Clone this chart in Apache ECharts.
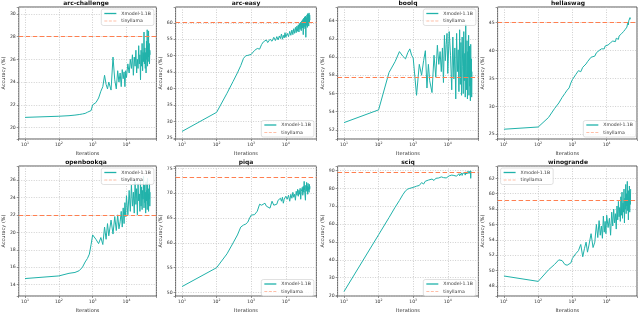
<!DOCTYPE html>
<html><head><meta charset="utf-8">
<script src="https://cdn.jsdelivr.net/npm/echarts@6/dist/echarts.min.js"></script>
<style>html,body{margin:0;padding:0;background:#fff}#c{width:640px;height:314px}</style>
</head><body><div id="c"></div>
<script>
// ---- data ----
const iterations = [10,100,200,300,400,500,600,700,800,900,1000,1250,1500,1750,2000,2250,2500,2750,3000,3500,
 4000,4500,5000,5500,6000,6500,7000,7500,8000,8500,9000,9500,
 10000,11000,12000,13000,14000,15000,16000,17000,18000,19000,20000,21000,22000,23000,24000,25000,26000,27000,28000,29000,
 30000,31000,32000,33000,34000,35000,36000,37000,38000,39000,40000,41000,42000,43000,44000,45000,46000,47000,48000,49000,50000];
const titles = ['arc-challenge','arc-easy','boolq','hellaswag','openbookqa','piqa','sciq','winogrande'];
const tinyllama = [28.0, 60.3, 57.8, 45.0, 22.0, 73.2, 88.9, 59.1];
const arcChallenge = [20.9,21.0,21.05,21.1,21.15,21.2,21.25,21.35,21.4,21.5,22.0,22.2,22.6,23.2,23.6,24.6,23.8,23.4,24.0,23.3,
 26.2,24.2,23.4,25.0,24.0,24.8,23.6,25.1,24.3,24.9,23.6,25.0,
 24.4,25.6,24.8,26.0,25.2,26.4,24.6,26.2,25.4,26.8,24.8,26.0,25.2,27.2,25.6,26.4,24.2,26.8,
 25.4,27.4,25.0,26.6,25.8,28.4,25.6,27.0,25.2,26.6,24.8,27.6,26.0,28.6,25.4,27.2,26.2,28.5,25.8,27.4,25.6,26.8,26.4];
const arcEasy = [27.0,32.8,38.6,42.2,44.8,47.0,49.2,50.0,50.1,50.2,50.4,51.6,52.2,52.0,53.4,54.2,53.6,54.8,54.0,55.0,
 54.4,55.6,54.6,55.8,54.8,56.0,55.2,56.6,55.0,56.2,55.4,57.0,
 55.6,56.8,55.8,57.4,56.2,57.8,56.4,58.2,56.8,58.6,57.0,59.0,57.4,59.4,57.2,59.8,58.0,60.2,
 57.6,60.6,58.4,61.0,56.4,61.4,58.8,61.8,58.2,62.0,55.6,61.6,59.2,62.4,58.6,62.8,59.6,62.6,59.0,63.0,60.2,62.4,60.8];
const boolq = [52.8,54.2,58.3,59.5,60.6,60.1,59.8,60.5,60.9,60.2,59.9,55.8,59.2,58.0,59.6,60.7,56.6,59.2,57.4,56.1,
 60.2,57.8,61.3,59.2,60.6,58.4,61.0,57.2,62.4,59.6,61.4,62.6,
 58.2,62.8,60.2,56.4,62.2,57.6,61.0,55.4,62.6,58.4,60.8,56.2,63.0,57.0,61.6,55.8,62.2,59.0,
 56.0,62.8,57.4,60.4,55.6,63.6,58.6,56.4,61.8,55.4,60.6,57.8,62.4,55.8,61.2,56.8,60.0,55.2,61.4,57.0,59.8,55.6,58.4];
const hellaswag = [25.9,26.3,28.0,29.6,30.6,31.6,32.3,32.9,33.3,34.2,34.8,35.7,36.4,36.2,37.0,36.9,37.6,38.0,38.2,38.8,
 39.1,39.0,39.6,39.5,40.0,39.7,40.3,40.1,40.6,40.3,40.8,40.5,
 40.9,41.0,40.7,41.4,41.1,41.7,41.4,42.0,41.6,42.2,41.9,42.4,42.0,42.6,42.3,42.8,42.5,43.0,
 42.7,43.2,42.9,43.4,43.1,43.6,43.3,43.8,43.5,44.0,43.7,44.2,44.6,44.3,45.0,44.6,45.3,45.0,45.6,45.3,45.9,45.6,46.0];
const openbookqa = [14.7,15.0,15.3,15.4,15.6,16.0,16.6,17.0,17.5,18.6,19.7,19.2,18.7,19.4,18.6,20.6,19.2,21.0,19.6,21.4,
 19.8,21.8,20.2,22.0,20.4,21.2,22.4,20.6,22.8,21.0,23.4,21.8,
 24.2,22.0,24.8,22.4,25.4,23.0,24.6,22.2,25.8,23.2,25.0,22.0,25.6,23.6,24.4,22.4,26.0,23.0,
 25.2,22.6,24.8,23.8,26.4,22.8,25.4,23.4,24.6,22.2,25.8,23.6,24.8,22.6,26.2,23.2,25.0,22.4,24.4,23.8,25.6,23.0,24.6];
const piqa = [51.2,55.0,57.8,60.0,61.6,63.2,63.6,63.8,64.2,65.0,65.6,65.7,66.4,67.8,67.6,67.2,68.0,67.4,67.6,67.0,
 68.4,67.6,68.0,67.8,68.6,68.2,69.0,68.4,69.2,68.0,68.8,68.6,
 69.4,68.8,69.6,68.4,69.8,69.0,70.2,69.2,69.8,68.6,70.4,69.6,70.8,69.4,70.6,69.8,71.0,68.8,
 70.4,70.0,71.2,69.6,71.4,70.2,72.4,70.6,71.0,68.6,71.6,70.4,72.2,70.8,71.4,69.8,72.0,70.6,71.2,70.2,71.8,70.8,71.4];
const sciq = [22.2,54.0,63.6,69.4,73.2,76.4,78.6,79.6,80.0,80.2,80.5,81.2,81.6,83.2,82.4,84.0,83.4,84.6,83.8,85.2,
 84.4,85.6,84.8,85.8,85.2,86.4,85.4,86.0,85.6,86.6,85.8,86.8,
 86.0,87.0,86.2,87.4,86.4,87.2,86.6,87.8,86.8,87.6,87.0,88.2,87.0,88.0,87.4,88.6,87.2,88.4,
 87.6,89.0,87.8,88.6,87.4,89.2,88.0,88.8,87.6,89.4,88.2,89.0,87.8,89.6,88.4,89.2,88.0,89.8,85.6,89.4,88.6,90.0,89.2];
const winogrande = [49.3,48.6,50.1,50.8,51.4,51.3,50.8,50.7,50.8,51.0,51.6,52.2,52.6,53.4,51.8,52.9,53.7,52.4,53.2,54.8,
 53.0,53.7,56.0,54.3,56.5,54.6,55.8,54.2,57.1,55.0,56.4,54.8,
 57.2,55.6,56.8,54.6,57.6,55.8,58.0,56.2,57.4,55.4,58.4,56.6,59.0,57.0,58.2,56.4,59.6,57.2,
 60.2,56.8,58.8,57.6,60.6,56.2,59.4,58.0,61.2,57.4,60.0,58.4,61.6,57.8,59.6,56.6,60.4,58.2,61.0,57.6,59.8,58.6,60.6];
const xmodel = [arcChallenge, arcEasy, boolq, hellaswag, openbookqa, piqa, sciq, winogrande];

// ---- layout / style ----
const colLeft = [15.6, 175.6, 337.6, 497.6];
const gridW = 140.8;
const rowTop = [7, 166];
const gridH = 132;
const yCfg = [
  {min:19.0, max:30.6, step:2, split:5, leg:'ur'},
  {min:24.7, max:64.8, step:5, split:8, leg:'lr'},
  {min:51.0, max:65.5, step:2, split:7, leg:'ur'},
  {min:24.15, max:47.8, step:5, split:5, leg:'lr'},
  {min:12.7, max:27.6, step:2, split:7, leg:'ur'},
  {min:49.3, max:75.5, step:5, split:5, leg:'lr'},
  {min:19.7, max:92.5, step:10, split:7, leg:'lr'},
  {min:46.7, max:63.6, step:2, split:8, leg:'ul'}
];
const TEAL = '#20B2AA', ORANGE = '#FF7F50';
const FONT = 'DejaVu Sans';
const DASH_ICON = 'path://M0,0h5v1h-5zM7.5,0h5v1h-5zM15,0h5v1h-5z';

const grid = [], xAxis = [], yAxis = [], series = [], title = [], legend = [];
for (let i = 0; i < 8; i++) {
  const col = i % 4, row = Math.floor(i / 4);
  const L = colLeft[col], T = rowTop[row];
  const c = yCfg[i];
  grid.push({left: L, top: T, width: gridW, height: gridH, show: true, borderColor: '#333', borderWidth: 0.8, backgroundColor: '#fff'});
  xAxis.push({
    type: 'log', logBase: 10, gridIndex: i, min: 6.53, max: 76740,
    name: 'Iterations', nameLocation: 'middle', nameGap: 12,
    nameTextStyle: {fontSize: 5, color: '#333', fontFamily: FONT},
    axisLine: {show: false},
    axisTick: {show: true, length: 2, lineStyle: {color: '#555', width: 0.6}},
    axisLabel: {
      margin: 3, fontSize: 4.6, color: '#333', fontFamily: FONT,
      formatter: v => { const e = Math.log10(v), r = Math.round(e); return Math.abs(e - r) < 1e-6 ? '10{s|' + r + '}' : ''; },
      rich: {s: {fontSize: 3.2, fontFamily: FONT, color: '#333', padding: [0, 0, 3, 0]}}
    },
    splitLine: {show: true, lineStyle: {color: '#bbb', type: [1, 1.5], width: 0.7}}
  });
  yAxis.push({
    type: 'value', gridIndex: i, min: c.min, max: c.max, splitNumber: c.split,
    name: 'Accuracy (%)', nameLocation: 'middle', nameGap: 9, nameRotate: 90,
    nameTextStyle: {fontSize: 5, color: '#333', fontFamily: FONT},
    axisLine: {show: false},
    axisTick: {show: true, length: 2, lineStyle: {color: '#555', width: 0.6}},
    axisLabel: {
      margin: 3, fontSize: 4.6, color: '#333', fontFamily: FONT,
      formatter: (v => { const q = v / c.step; return Math.abs(q - Math.round(q)) < 1e-6 ? String(Math.round(v)) : ''; })
    },
    splitLine: {show: true, lineStyle: {color: '#bbb', type: [1, 1.5], width: 0.7}}
  });
  series.push({
    type: 'line', name: 'Xmodel-1.1B', xAxisIndex: i, yAxisIndex: i,
    data: iterations.map((x, j) => [x, xmodel[i][j]]),
    symbol: 'none', lineStyle: {color: TEAL, width: 1}, itemStyle: {color: TEAL}, animation: false
  });
  series.push({
    type: 'line', name: 'tinyllama', xAxisIndex: i, yAxisIndex: i, data: [],
    symbol: 'none', lineStyle: {color: ORANGE, width: 1.1, type: [4, 2.5]}, itemStyle: {color: ORANGE}, animation: false,
    markLine: {silent: true, symbol: ['none', 'none'], label: {show: false}, animation: false,
      lineStyle: {color: ORANGE, width: 1.1, type: [4.5, 2.5]}, data: [{yAxis: tinyllama[i]}]}
  });
  title.push({
    text: titles[i], left: L + gridW / 2, top: row === 0 ? 0 : 159.5, textAlign: 'center', padding: 0,
    textStyle: {fontSize: 6, fontWeight: 'bold', color: '#111', fontFamily: FONT}
  });
  const lg = {
    data: [
      {name: 'Xmodel-1.1B', icon: 'rect', itemStyle: {color: TEAL, borderWidth: 0}},
      {name: 'tinyllama', icon: DASH_ICON, itemStyle: {color: ORANGE, borderWidth: 0}}
    ],
    orient: 'vertical', selectedMode: false,
    itemWidth: 12, itemHeight: 1.3, itemGap: 2.5, padding: [2, 3],
    textStyle: {fontSize: 4.6, color: '#333', fontFamily: FONT},
    backgroundColor: 'rgba(255,255,255,0.85)', borderColor: '#ccc', borderWidth: 0.6, borderRadius: 2
  };
  if (c.leg === 'ur') { lg.right = 640 - (L + gridW - 2.5); lg.top = T + 2; }
  else if (c.leg === 'lr') { lg.right = 640 - (L + gridW - 2.5); lg.bottom = 314 - (T + gridH - 2); }
  else { lg.left = L + 3; lg.top = T + 2; }
  legend.push(lg);
}

const chart = echarts.init(document.getElementById('c'), null, {renderer: 'canvas'});
chart.setOption({animation: false, backgroundColor: '#fff', title, legend, grid, xAxis, yAxis, series});
</script>
</body></html>
